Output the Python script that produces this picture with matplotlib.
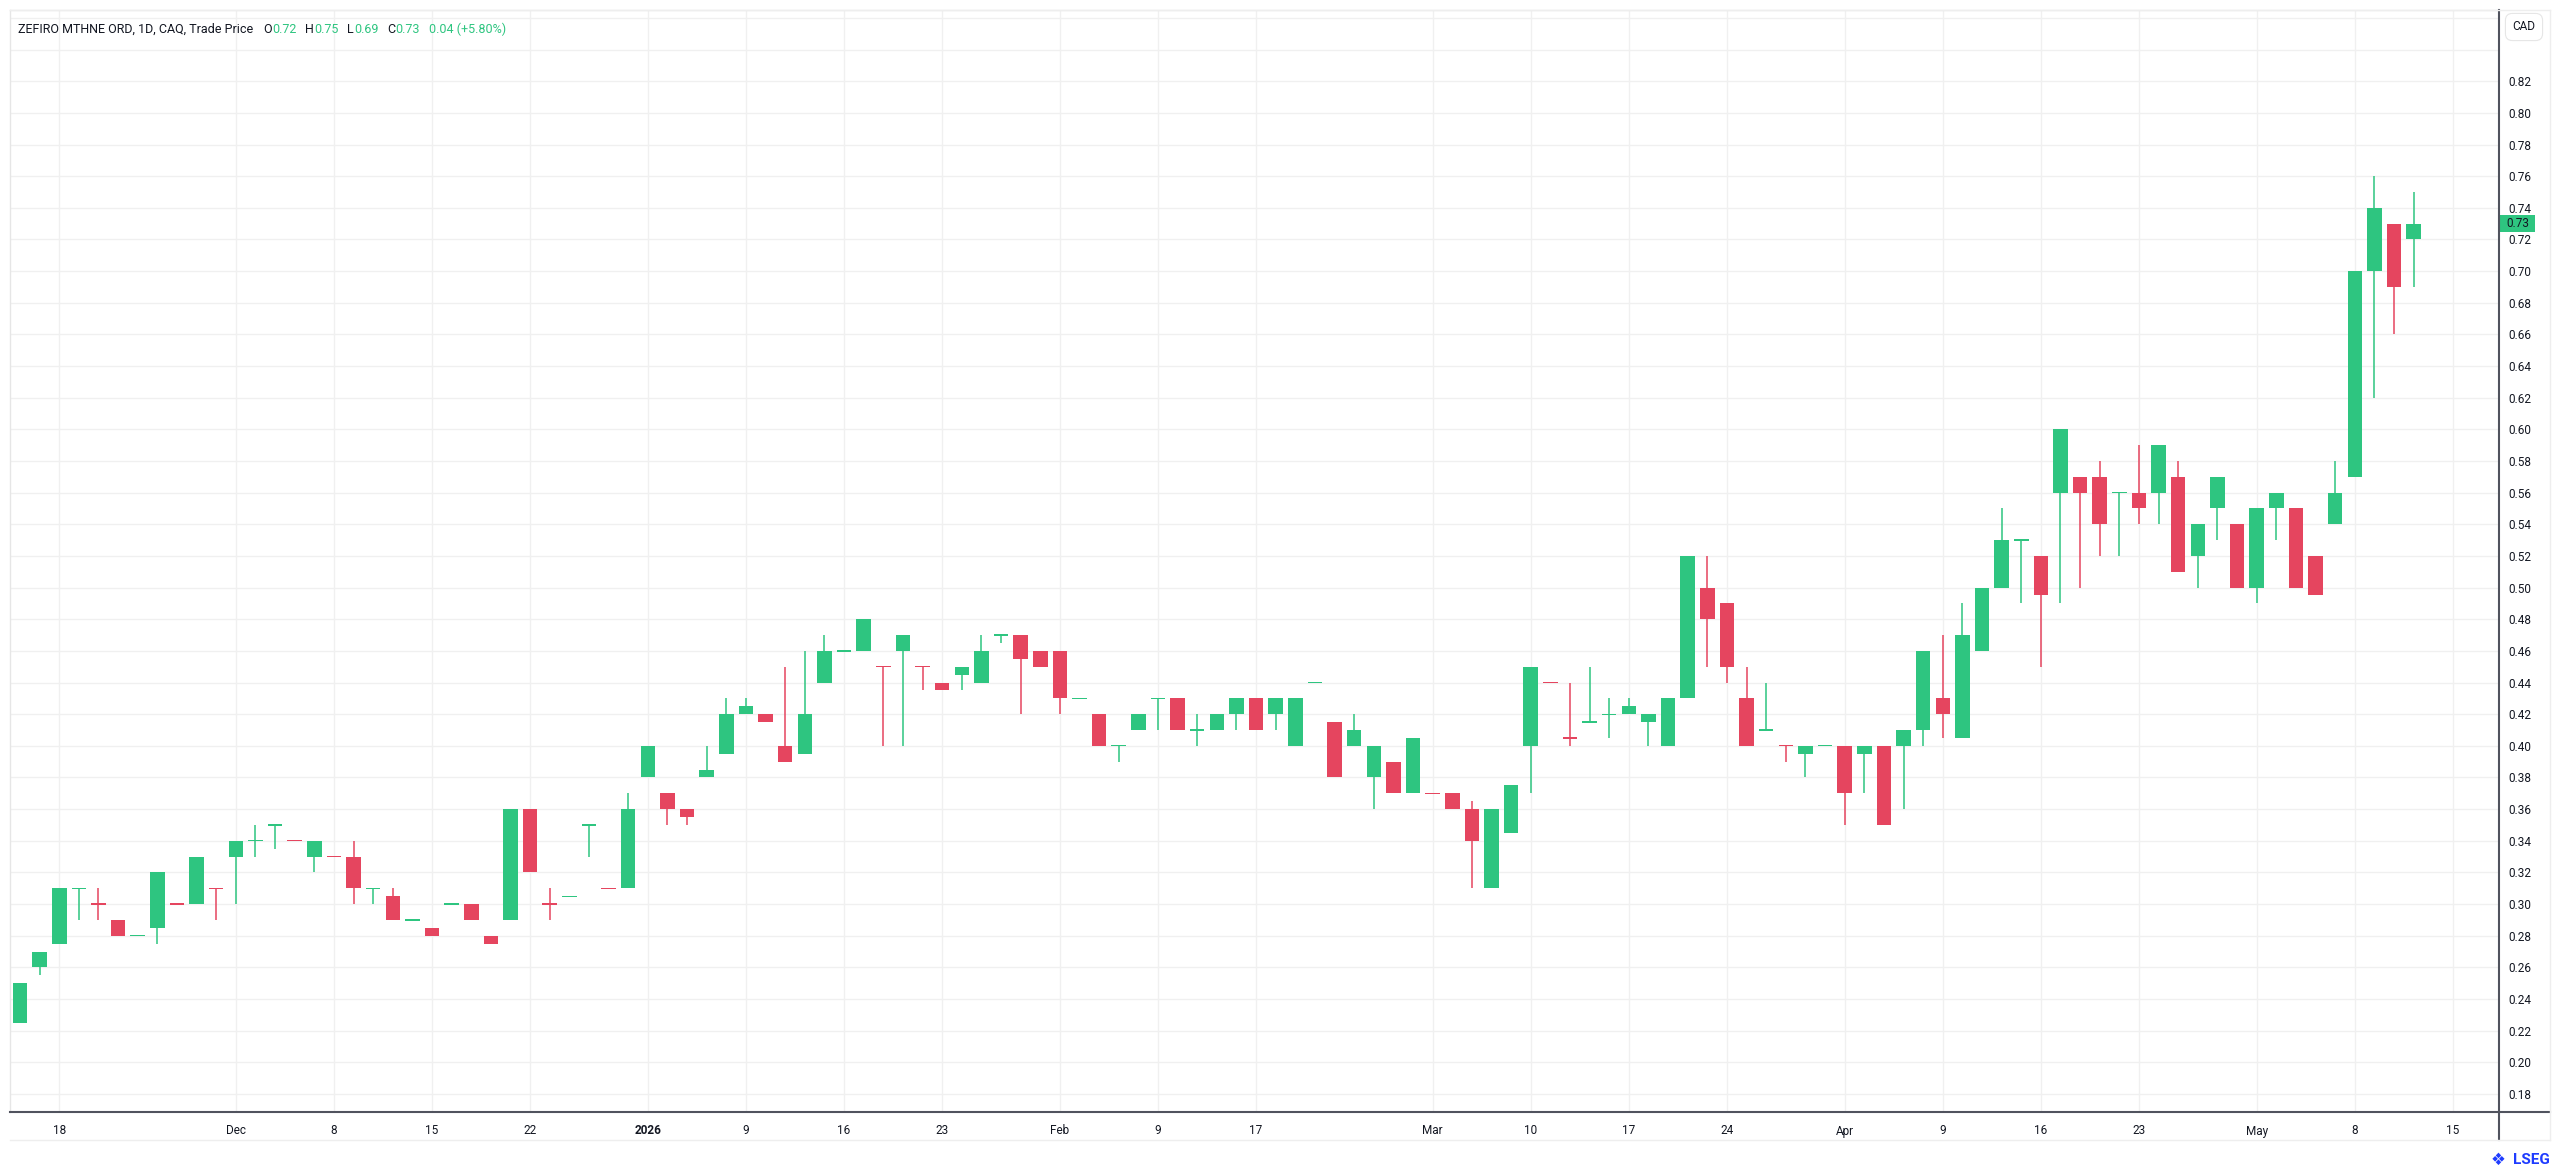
import numpy as np
import pandas as pd
import matplotlib
matplotlib.use('Agg')
import matplotlib.pyplot as plt
import matplotlib.transforms as mtransforms
from matplotlib.patches import Rectangle
from matplotlib.lines import Line2D
from matplotlib.ticker import FuncFormatter

W, H, DPI = 2560, 1170, 100

# ---- data (daily OHLC, CAD) ----
start_day = '2025-11-14'
holidays = ['2025-12-25', '2025-12-26', '2026-01-01', '2026-02-16', '2026-04-03']
no_trade_days = ['2026-03-09']

opens = [0.225, 0.26, 0.275, 0.31, 0.30, 0.29, 0.28, 0.285, 0.30, 0.30,
         0.31, 0.33, 0.34, 0.35, 0.34, 0.33, 0.33, 0.33, 0.31, 0.305,
         0.29, 0.285, 0.30, 0.30, 0.28, 0.29, 0.36, 0.30, 0.305, 0.35,
         0.31, 0.31, 0.38, 0.37, 0.36, 0.38, 0.395, 0.42, 0.42, 0.40,
         0.395, 0.44, 0.46, 0.46, 0.45, 0.46, 0.45, 0.44, 0.445, 0.44,
         0.47, 0.47, 0.46, 0.46, 0.43, 0.42, 0.40, 0.41, 0.43, 0.43,
         0.41, 0.41, 0.42, 0.43, 0.42, 0.40, 0.44, 0.415, 0.40, 0.38,
         0.39, 0.37, 0.37, 0.37, 0.36, 0.31, 0.345, 0.40, 0.44, 0.405,
         0.415, 0.42, 0.42, 0.415, 0.40, 0.43, 0.50, 0.49, 0.43, 0.41,
         0.40, 0.395, 0.40, 0.40, 0.395, 0.40, 0.40, 0.41, 0.43, 0.405,
         0.46, 0.50, 0.53, 0.52, 0.56, 0.57, 0.57, 0.56, 0.56, 0.56,
         0.57, 0.52, 0.55, 0.54, 0.50, 0.55, 0.55, 0.52, 0.54, 0.57,
         0.70, 0.73, 0.72]
highs = [0.25, 0.27, 0.31, 0.31, 0.31, 0.29, 0.28, 0.32, 0.30, 0.33,
         0.31, 0.34, 0.35, 0.35, 0.34, 0.34, 0.33, 0.34, 0.31, 0.31,
         0.29, 0.285, 0.30, 0.30, 0.28, 0.36, 0.36, 0.31, 0.305, 0.35,
         0.31, 0.37, 0.40, 0.37, 0.36, 0.40, 0.43, 0.43, 0.42, 0.45,
         0.46, 0.47, 0.46, 0.48, 0.45, 0.47, 0.45, 0.44, 0.45, 0.47,
         0.47, 0.47, 0.46, 0.46, 0.43, 0.42, 0.40, 0.42, 0.43, 0.43,
         0.42, 0.42, 0.43, 0.43, 0.43, 0.43, 0.44, 0.415, 0.42, 0.40,
         0.39, 0.405, 0.37, 0.37, 0.365, 0.36, 0.375, 0.45, 0.44, 0.44,
         0.45, 0.43, 0.43, 0.42, 0.43, 0.52, 0.52, 0.49, 0.45, 0.44,
         0.40, 0.40, 0.40, 0.40, 0.40, 0.40, 0.41, 0.46, 0.47, 0.49,
         0.50, 0.55, 0.53, 0.52, 0.60, 0.57, 0.58, 0.56, 0.59, 0.59,
         0.58, 0.54, 0.57, 0.54, 0.55, 0.56, 0.55, 0.52, 0.58, 0.70,
         0.76, 0.73, 0.75]
lows = [0.225, 0.255, 0.275, 0.29, 0.29, 0.28, 0.28, 0.275, 0.30, 0.30,
        0.29, 0.30, 0.33, 0.335, 0.34, 0.32, 0.33, 0.30, 0.30, 0.29,
        0.29, 0.28, 0.30, 0.29, 0.275, 0.29, 0.32, 0.29, 0.305, 0.33,
        0.31, 0.31, 0.38, 0.35, 0.35, 0.38, 0.395, 0.42, 0.415, 0.39,
        0.395, 0.44, 0.46, 0.46, 0.40, 0.40, 0.435, 0.435, 0.435, 0.44,
        0.465, 0.42, 0.45, 0.42, 0.43, 0.40, 0.39, 0.41, 0.41, 0.41,
        0.40, 0.41, 0.41, 0.41, 0.41, 0.40, 0.44, 0.38, 0.40, 0.36,
        0.37, 0.37, 0.37, 0.36, 0.31, 0.31, 0.345, 0.37, 0.44, 0.40,
        0.415, 0.405, 0.42, 0.40, 0.40, 0.43, 0.45, 0.44, 0.40, 0.41,
        0.39, 0.38, 0.40, 0.35, 0.37, 0.35, 0.36, 0.40, 0.405, 0.405,
        0.46, 0.50, 0.49, 0.45, 0.49, 0.50, 0.52, 0.52, 0.54, 0.54,
        0.51, 0.50, 0.53, 0.50, 0.49, 0.53, 0.50, 0.495, 0.54, 0.57,
        0.62, 0.66, 0.69]
closes = [0.25, 0.27, 0.31, 0.31, 0.30, 0.28, 0.28, 0.32, 0.30, 0.33,
          0.31, 0.34, 0.34, 0.35, 0.34, 0.34, 0.33, 0.31, 0.31, 0.29,
          0.29, 0.28, 0.30, 0.29, 0.275, 0.36, 0.32, 0.30, 0.305, 0.35,
          0.31, 0.36, 0.40, 0.36, 0.355, 0.385, 0.42, 0.425, 0.415, 0.39,
          0.42, 0.46, 0.46, 0.48, 0.45, 0.47, 0.45, 0.435, 0.45, 0.46,
          0.47, 0.455, 0.45, 0.43, 0.43, 0.40, 0.40, 0.42, 0.43, 0.41,
          0.41, 0.42, 0.43, 0.41, 0.43, 0.43, 0.44, 0.38, 0.41, 0.40,
          0.37, 0.405, 0.37, 0.36, 0.34, 0.36, 0.375, 0.45, 0.44, 0.405,
          0.415, 0.42, 0.425, 0.42, 0.43, 0.52, 0.48, 0.45, 0.40, 0.41,
          0.40, 0.40, 0.40, 0.37, 0.40, 0.35, 0.41, 0.46, 0.42, 0.47,
          0.50, 0.53, 0.53, 0.495, 0.60, 0.56, 0.54, 0.56, 0.55, 0.59,
          0.51, 0.54, 0.57, 0.50, 0.55, 0.56, 0.50, 0.495, 0.56, 0.70,
          0.74, 0.69, 0.73]

tick_dates = ['2025-11-18', '2025-12-01', '2025-12-08', '2025-12-15', '2025-12-22',
              '2026-01-02', '2026-01-09', '2026-01-16', '2026-01-23', '2026-02-02',
              '2026-02-09', '2026-02-17', '2026-03-02', '2026-03-10', '2026-03-17',
              '2026-03-24', '2026-04-01', '2026-04-09', '2026-04-16', '2026-04-23',
              '2026-05-01', '2026-05-08', '2026-05-15']
tick_labels = ['18', 'Dec', '8', '15', '22', '2026', '9', '16', '23', 'Feb', '9', '17',
               'Mar', '10', '17', '24', 'Apr', '9', '16', '23', 'May', '8', '15']

symbol_text = 'ZEFIRO MTHNE ORD, 1D, CAQ, Trade Price'
currency = 'CAD'

GREEN = '#2ec580'
RED = '#e5455f'
DARK = '#131722'
GRID = '#f0f0f0'
AXLINE = '#50535e'

plt.rcParams['font.family'] = ['Roboto', 'DejaVu Sans']

# trading calendar -> bar index
cal = pd.bdate_range(start_day, '2026-05-29')
cal = cal[~cal.isin(pd.to_datetime(holidays + no_trade_days))]
day_pos = {d.strftime('%Y-%m-%d'): i for i, d in enumerate(cal)}

o = np.array(opens); h = np.array(highs); l = np.array(lows); c = np.array(closes)
n = len(o)
x = np.arange(n)
prev_c = np.r_[c[0], c[:-1]]
flat = np.isclose(c, o)
up = (c > o + 1e-9) | (flat & (c >= prev_c - 1e-9))
cols = np.where(up, GREEN, RED)

fig = plt.figure(figsize=(W / DPI, H / DPI), dpi=DPI)
L, R, T, B = 10, 2499, 10, 1112
ax = fig.add_axes([L / W, 1 - B / H, (R - L) / W, (B - T) / H])

ymin, ymax = 0.1686, 0.865
px_per_price = (B - T) / (ymax - ymin)

ax.vlines(x, l, h, colors=cols, lw=1.1, zorder=2)
bottom = np.minimum(o, c)
height = np.abs(c - o)
one_px = 1.3 / px_per_price
bottom = np.where(flat, o - one_px / 2, bottom)
height = np.where(flat, one_px, height)
ax.bar(x, height, width=0.74, bottom=bottom, color=cols, linewidth=0, zorder=3)

ax.set_xlim(-0.51, (R - 20) / 19.62)
ax.set_ylim(ymin, ymax)

# price axis
ax.yaxis.tick_right()
ax.set_yticks(np.arange(0.18, 0.861, 0.02))
ax.yaxis.set_major_formatter(FuncFormatter(lambda v, p: '%.2f' % v if v < 0.825 else ''))
ax.tick_params(axis='y', length=0, pad=7, labelsize=8.5, labelcolor=DARK)

# time axis
tick_pos = [day_pos[d] for d in tick_dates]
ax.set_xticks(tick_pos)
ax.set_xticklabels(tick_labels)
ax.tick_params(axis='x', length=0, pad=9, labelsize=8.5, labelcolor=DARK)
for t in ax.get_xticklabels():
    if t.get_text().isdigit() and len(t.get_text()) == 4:
        t.set_fontweight('bold')

ax.grid(True, color=GRID, lw=1.0)
ax.set_axisbelow(True)
for s in ['top', 'left']:
    ax.spines[s].set_color('#e6e6e6')
    ax.spines[s].set_linewidth(1.0)
for s in ['right', 'bottom']:
    ax.spines[s].set_visible(False)

# axis lines extended like the terminal layout
fig.add_artist(Line2D([L / W, 2550 / W], [1 - B / H, 1 - B / H], color=AXLINE, lw=1.5))
fig.add_artist(Line2D([R / W, R / W], [1 - T / H, 1 - 1140 / H], color=AXLINE, lw=1.5))
fig.add_artist(Line2D([L / W, 2550 / W], [1 - 1140 / H, 1 - 1140 / H], color='#eeeeee', lw=1.0))
fig.add_artist(Line2D([2550 / W, 2550 / W], [1 - T / H, 1 - 1140 / H], color='#eeeeee', lw=1.0))
fig.add_artist(Line2D([L / W, 2550 / W], [1 - T / H, 1 - T / H], color='#eeeeee', lw=1.0))

# last price tag
trans = mtransforms.blended_transform_factory(ax.transAxes, ax.transData)
last = c[-1]
hh = 8.5 / px_per_price
ax.add_patch(Rectangle((1.0, last - hh), 36 / (R - L), 2 * hh, transform=trans,
                       facecolor=GREEN, edgecolor='none', clip_on=False, zorder=6))
ax.text(1.0 + 7 / (R - L), last, '%.2f' % last, transform=trans, ha='left', va='center',
        fontsize=8.5, color=DARK, zorder=7, clip_on=False)

# currency box
fig.text(2524 / W, 1 - 27 / H, currency, ha='center', va='center', fontsize=8.5, color=DARK,
         bbox=dict(boxstyle='round,pad=0.6', fc='white', ec='#e6e6e6', lw=0.8))

# legend line
chg = c[-1] - c[-2]
pct = chg / c[-2] * 100
parts = [(symbol_text, DARK, 0), ('O', DARK, 10), ('%.2f' % o[-1], GREEN, 0),
         ('H', DARK, 9), ('%.2f' % h[-1], GREEN, 0),
         ('L', DARK, 9), ('%.2f' % l[-1], GREEN, 0),
         ('C', DARK, 9), ('%.2f' % c[-1], GREEN, 0),
         ('%.2f (%+.2f%%)' % (chg, pct), GREEN, 9)]
renderer = fig.canvas.get_renderer()
xpix = 18
for s, col, gap in parts:
    xpix += gap
    t = fig.text(xpix / W, 1 - 33 / H, s, ha='left', va='baseline', fontsize=9.0, color=col)
    xpix = t.get_window_extent(renderer).x1

# brand mark
fig.text(2505 / W, 1 - 1160 / H, '\u2756', ha='right', va='center', fontsize=12,
         color='#1f3cff', family=['DejaVu Sans'])
fig.text(2550 / W, 1 - 1160 / H, 'LSEG', ha='right', va='center', fontsize=11,
         fontweight='bold', color='#1f3cff')

fig.savefig('out.png', dpi=DPI, facecolor='white')
